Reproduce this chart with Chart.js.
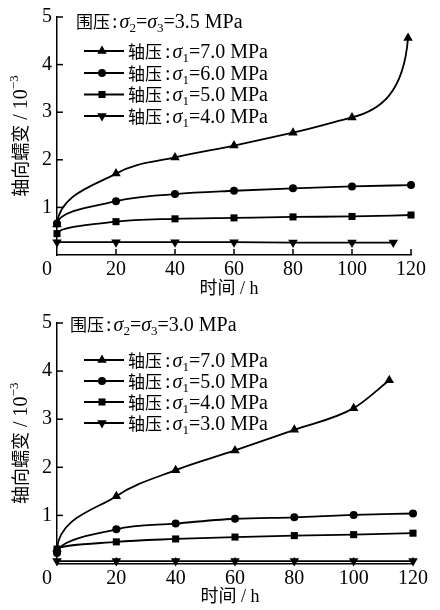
<!DOCTYPE html>
<html><head><meta charset="utf-8">
<script src="https://cdn.jsdelivr.net/npm/chart.js@4.4.0/dist/chart.umd.min.js"></script>
<style>
html,body{margin:0;padding:0;background:#fff;}
#wrap{position:relative;width:440px;height:610px;overflow:hidden;}
canvas{position:absolute;left:0;}
</style></head><body>
<div id="wrap">
<canvas id="c1" width="440" height="305" style="top:0px"></canvas>
<canvas id="c2" width="440" height="305" style="top:305px"></canvas>
</div>
<script>
// ---- data (time in h, axial creep strain in 10^-3) ----
const xTickValues = [0, 20, 40, 60, 80, 100, 120];
const yTickValues = [1, 2, 3, 4, 5];

// 围压 σ2=σ3=3.5 MPa
const topTitle = ['3.5'];
const topLabels = ['7.0', '6.0', '5.0', '4.0'];
const topTime70 = [0, 20, 40, 60, 80, 100, 119];
const topVal70  = [0.64, 1.71, 2.05, 2.30, 2.57, 2.89, 4.56];
const topTime60 = [0, 20, 40, 60, 80, 100, 120];
const topVal60  = [0.66, 1.13, 1.28, 1.35, 1.40, 1.44, 1.47];
const topTime50 = [0, 20, 40, 60, 80, 100, 120];
const topVal50  = [0.45, 0.70, 0.76, 0.78, 0.80, 0.81, 0.84];
const topTime40 = [0, 20, 40, 60, 80, 100, 114];
const topVal40  = [0.27, 0.27, 0.27, 0.27, 0.26, 0.26, 0.26];

// 围压 σ2=σ3=3.0 MPa
const botTitle = ['3.0'];
const botLabels = ['7.0', '5.0', '4.0', '3.0'];
const botTime70 = [0, 20, 40, 60, 80, 100, 112];
const botVal70  = [0.30, 1.40, 1.94, 2.35, 2.78, 3.23, 3.81];
const botTime50 = [0, 20, 40, 60, 80, 100, 120];
const botVal50  = [0.22, 0.71, 0.83, 0.93, 0.96, 1.01, 1.04];
const botTime40 = [0, 20, 40, 60, 80, 100, 120];
const botVal40  = [0.30, 0.45, 0.51, 0.55, 0.58, 0.60, 0.63];
const botTime30 = [0, 20, 40, 60, 80, 100, 120];
const botVal30  = [0.05, 0.05, 0.05, 0.05, 0.05, 0.05, 0.05];

// ---- styling ----
const CJK = '"Noto Sans CJK SC"';
const LAT = '"Liberation Serif"';
const markerStyles = [
  {pointStyle: 'triangle', radius: 5.5, rotation: 0},
  {pointStyle: 'circle', radius: 4, rotation: 0},
  {pointStyle: 'rect', radius: 5, rotation: 0},
  {pointStyle: 'triangle', radius: 5.5, rotation: 180}
];

function pts(xs, ys) { return xs.map((x, i) => ({x: x, y: ys[i]})); }

function drawRich(ctx, x, y, segs) {
  ctx.textBaseline = 'alphabetic';
  ctx.textAlign = 'left';
  for (const s of segs) {
    x += (s.pre || 0);
    ctx.font = s.f;
    ctx.fillText(s.t, x, y + (s.dy || 0));
    x += ctx.measureText(s.t).width + (s.post || 0);
  }
  return x;
}

function drawMarker(ctx, m, x, y) {
  ctx.save();
  ctx.fillStyle = '#000';
  ctx.beginPath();
  if (m.pointStyle === 'circle') {
    ctx.arc(x, y, m.radius, 0, Math.PI * 2);
  } else if (m.pointStyle === 'rect') {
    const s = Math.SQRT1_2 * m.radius;
    ctx.rect(x - s, y - s, 2 * s, 2 * s);
  } else {
    const r = m.radius, rad = m.rotation * Math.PI / 180;
    for (let k = 0; k < 3; k++) {
      const a = rad + k * 2 * Math.PI / 3;
      const px = x + Math.sin(a) * r, py = y - Math.cos(a) * r;
      if (k === 0) ctx.moveTo(px, py); else ctx.lineTo(px, py);
    }
    ctx.closePath();
  }
  ctx.fill();
  ctx.restore();
}

// Reshape spline handles (computed by Chart.js from scaled points) so the
// primary creep stage rises steeply and the accelerating stage turns up.
const shapeCurves = {
  id: 'shapeCurves',
  beforeDatasetDraw(chart, args) {
    const meta = args.meta;
    const line = meta.dataset;
    if (!line || !line.updateControlPoints) return;
    line.updateControlPoints(chart.chartArea, 'x');
    const p = meta.data;
    const ds = chart.data.datasets[args.index];
    if (p.length < 3) return;
    const p0 = p[0], p1 = p[1];
    const dx = p1.x - p0.x, dy = p1.y - p0.y;
    if (Math.abs(dy) > 6) {
      p0.cp2x = p0.x + 0.04 * dx;
      p0.cp2y = p0.y + 0.6 * dy;
    }
    if (ds.steepEnd) {
      const n = p.length;
      const a = p[n - 3], b = p[n - 2], c = p[n - 1];
      const ex = c.x - b.x, ey = c.y - b.y;
      const slope = (b.y - a.y) / (b.x - a.x);
      const px = b.x - a.x;
      b.cp1x = b.x - px / 3;
      b.cp1y = b.y - slope * px / 3;
      b.cp2x = b.x + 0.5 * ex;
      b.cp2y = b.y + 0.5 * ex * slope;
      c.cp1x = c.x - 0.08 * ex;
      c.cp1y = c.y - 0.7 * ey;
    }
  }
};

function makeChart(canvasId, cfg) {
  const datasets = cfg.series.map((s, i) => ({
    label: s.label,
    data: pts(s.t, s.v),
    borderColor: '#000',
    backgroundColor: '#000',
    borderWidth: 1.8,
    pointStyle: markerStyles[i].pointStyle,
    pointRadius: markerStyles[i].radius,
    pointRotation: markerStyles[i].rotation,
    pointBorderWidth: 0,
    pointBackgroundColor: '#000',
    cubicInterpolationMode: 'monotone',
    steepEnd: !!s.steepEnd,
    clip: false
  }));

  const decor = {
    id: 'decor',
    afterDraw(chart) {
      const ctx = chart.ctx;
      const xs = chart.scales.x, ys = chart.scales.y;
      const a = chart.chartArea;
      ctx.save();
      ctx.strokeStyle = '#000';
      ctx.lineWidth = 1.5;
      // inward tick marks
      xTickValues.forEach(v => {
        if (v === 0) return;
        const px = xs.getPixelForValue(v);
        ctx.beginPath(); ctx.moveTo(px, a.bottom); ctx.lineTo(px, a.bottom - 6); ctx.stroke();
      });
      yTickValues.forEach(v => {
        const py = ys.getPixelForValue(v);
        ctx.beginPath(); ctx.moveTo(a.left, py); ctx.lineTo(a.left + 6, py); ctx.stroke();
      });
      ctx.fillStyle = '#000';
      // chart title (confining pressure)
      drawRich(ctx, cfg.titleX, a.top + cfg.titleDy, [
        {t: '围压', f: '17px ' + CJK},
        {t: ':', f: '20px ' + LAT, pre: 2, post: 2},
        {t: 'σ', f: 'italic 20px ' + LAT},
        {t: '2', f: '13px ' + LAT, dy: 4},
        {t: '=', f: '20px ' + LAT},
        {t: 'σ', f: 'italic 20px ' + LAT},
        {t: '3', f: '13px ' + LAT, dy: 4},
        {t: '=' + cfg.title + ' MPa', f: '20px ' + LAT}
      ]);
      // legend
      cfg.series.forEach((s, i) => {
        const cy = a.top + cfg.legendDy[i];
        ctx.lineWidth = 1.8;
        ctx.beginPath(); ctx.moveTo(84, cy); ctx.lineTo(124, cy); ctx.stroke();
        drawMarker(ctx, markerStyles[i], 102, cy);
        drawRich(ctx, 128, cy + 6.5, [
          {t: '轴压', f: '17px ' + CJK},
          {t: ':', f: '20px ' + LAT, pre: 3, post: 2},
          {t: 'σ', f: 'italic 20px ' + LAT},
          {t: '1', f: '13px ' + LAT, dy: 4},
          {t: '=' + s.label + ' MPa', f: '20px ' + LAT}
        ]);
      });
      // x axis title
      ctx.font = '18px ' + LAT + ', ' + CJK;
      ctx.textAlign = 'center';
      ctx.textBaseline = 'middle';
      ctx.fillText('时间 / h', (a.left + a.right) / 2 - 5, a.bottom + 34);
      // y axis title (rotated, with superscript)
      ctx.save();
      ctx.translate(20, (a.top + a.bottom) / 2);
      ctx.rotate(-Math.PI / 2);
      const segs = [
        {t: '轴向蠕变', f: '18px ' + CJK},
        {t: ' / 10', f: '20px ' + LAT},
        {t: '−3', f: '13px ' + LAT, dy: -9}
      ];
      let w = 0;
      segs.forEach(s => { ctx.font = s.f; w += ctx.measureText(s.t).width; });
      drawRich(ctx, -w / 2, 6.5, segs);
      ctx.restore();
      ctx.restore();
    }
  };

  return new Chart(document.getElementById(canvasId), {
    type: 'line',
    data: {datasets: datasets},
    options: {
      responsive: false,
      devicePixelRatio: 1,
      animation: false,
      layout: {padding: {left: 0, top: cfg.padTop, right: cfg.padRight, bottom: 0}},
      plugins: {legend: {display: false}, tooltip: {enabled: false}},
      scales: {
        x: {
          type: 'linear', min: 0, max: 120,
          afterBuildTicks: sc => { sc.ticks = xTickValues.map(v => ({value: v})); },
          afterFit: sc => { sc.height = cfg.xHeight; },
          grid: {display: true, drawOnChartArea: false, drawTicks: false},
          border: {display: true, color: '#000', width: 1.5},
          ticks: {
            color: '#000', padding: 3, maxRotation: 0, autoSkip: false,
            font: {family: 'Liberation Serif', size: 20},
            callback: v => v === 0 ? '0    ' : String(v)
          }
        },
        y: {
          type: 'linear', min: 0, max: 5,
          afterBuildTicks: sc => { sc.ticks = yTickValues.map(v => ({value: v})); },
          afterFit: sc => { sc.width = 57; },
          grid: {display: true, drawOnChartArea: false, drawTicks: false},
          border: {display: true, color: '#000', width: 1.5},
          ticks: {
            color: '#000', padding: 5,
            font: {family: 'Liberation Serif', size: 20},
            callback: v => String(v)
          }
        }
      }
    },
    plugins: [shapeCurves, decor]
  });
}

makeChart('c1', {
  title: topTitle[0], titleX: 76, titleDy: 11,
  padTop: 14, padRight: 29, xHeight: 50,
  legendDy: [34, 56, 77.5, 99],
  series: [
    {label: topLabels[0], t: topTime70, v: topVal70, steepEnd: true},
    {label: topLabels[1], t: topTime60, v: topVal60},
    {label: topLabels[2], t: topTime50, v: topVal50},
    {label: topLabels[3], t: topTime40, v: topVal40}
  ]
});

makeChart('c2', {
  title: botTitle[0], titleX: 70, titleDy: 8,
  padTop: 18, padRight: 27, xHeight: 46.5,
  legendDy: [37, 58, 79, 100],
  series: [
    {label: botLabels[0], t: botTime70, v: botVal70},
    {label: botLabels[1], t: botTime50, v: botVal50},
    {label: botLabels[2], t: botTime40, v: botVal40},
    {label: botLabels[3], t: botTime30, v: botVal30}
  ]
});
</script>
</body></html>
